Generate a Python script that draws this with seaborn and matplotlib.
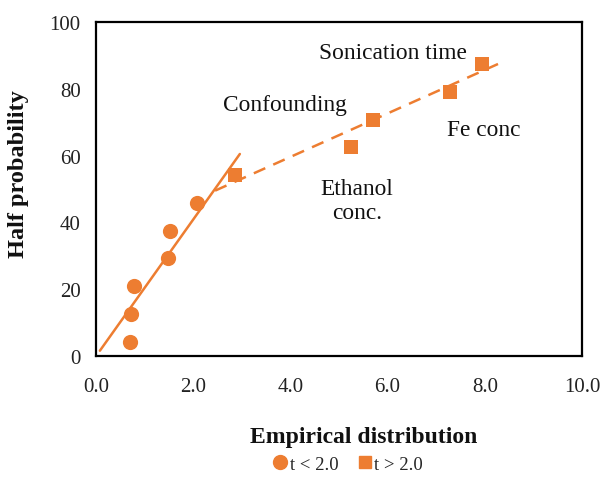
import matplotlib
matplotlib.use("Agg")
import matplotlib.pyplot as plt
import seaborn as sns
import pandas as pd
from matplotlib.lines import Line2D

# Data
low_x = [0.70, 0.73, 0.79, 1.48, 1.52, 2.08]
low_y = [4.2, 12.5, 20.8, 29.2, 37.5, 45.8]
high_x = [2.85, 5.25, 5.71, 7.28, 7.94]
high_y = [54.2, 62.5, 70.8, 79.2, 87.5]
trend_low_x = [0.08, 2.96]
trend_low_y = [1.5, 60.5]
trend_high_x = [2.45, 8.35]
trend_high_y = [49.5, 88.0]
labels = ["Sonication time", "Confounding", "Fe conc", "Ethanol\nconc."]
label_x = [6.1, 3.88, 7.98, 5.37]
label_y = [91.0, 75.2, 67.8, 46.5]
series_names = ["t < 2.0", "t > 2.0"]

sns.set_theme(style="white")
plt.rcParams['font.family'] = ['Liberation Serif', 'DejaVu Serif']

color = "#ED7D31"
fig = plt.figure(figsize=(6.13, 4.81), dpi=100)
ax = fig.add_axes([0.1566, 0.2584, 0.7928, 0.6932])

sns.lineplot(x=trend_low_x, y=trend_low_y, ax=ax, color=color, linewidth=1.8)
sns.lineplot(x=trend_high_x, y=trend_high_y, ax=ax, color=color, linewidth=1.8,
             linestyle=(0, (5, 3.5)))
sns.scatterplot(x=low_x, y=low_y, ax=ax, color=color, marker="o", s=120,
                edgecolor=color, linewidth=0, zorder=3)
sns.scatterplot(x=high_x, y=high_y, ax=ax, color=color, marker="s", s=100,
                edgecolor=color, linewidth=0, zorder=3)

for t, x, y in zip(labels, label_x, label_y):
    ax.text(x, y, t, ha="center", va="center", fontsize=16.8, color="#111111",
            linespacing=1.15)

ax.set_xlim(0, 10)
ax.set_ylim(0, 100)
ax.set_xticks([0, 2, 4, 6, 8, 10])
ax.set_xticklabels(["0.0", "2.0", "4.0", "6.0", "8.0", "10.0"])
ax.set_yticks([0, 20, 40, 60, 80, 100])
ax.tick_params(axis="both", direction="out", length=5, width=1.6, color="black",
               labelsize=15, pad=6, labelcolor="#222222")
ax.tick_params(axis="x", pad=10)
for s in ax.spines.values():
    s.set_visible(True)
    s.set_color("black")
    s.set_linewidth(1.6)

ax.set_xlabel("Empirical distribution", fontsize=17, fontweight="bold", color="#111111")
ax.xaxis.label.set_va("center")
ax.xaxis.set_label_coords(0.551, -0.241)
ax.set_ylabel("Half probability", fontsize=17.5, fontweight="bold", color="#111111")
ax.yaxis.label.set_va("center")
ax.yaxis.set_label_coords(-0.16, 0.548)

handles = [Line2D([], [], marker="o", color=color, linestyle="none", markersize=10),
           Line2D([], [], marker="s", color=color, linestyle="none", markersize=9)]
fig.legend(handles, series_names, loc="center", bbox_to_anchor=(0.566, 0.033),
           ncol=2, frameon=False, fontsize=13.5, handletextpad=0.0, columnspacing=0.9,
           handlelength=1.0)

fig.savefig("out.png", dpi=100, facecolor="white")
